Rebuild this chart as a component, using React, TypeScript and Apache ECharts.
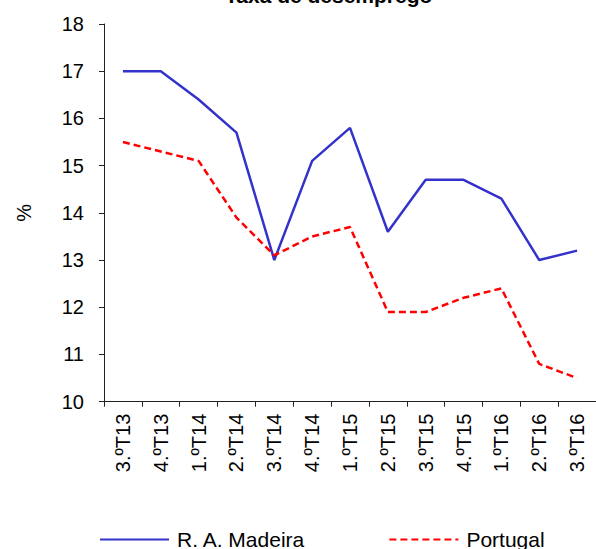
import React, { useEffect, useRef } from "react";
import * as echarts from "echarts";

const categories = [
  "3.ºT13", "4.ºT13", "1.ºT14", "2.ºT14", "3.ºT14", "4.ºT14", "1.ºT15",
  "2.ºT15", "3.ºT15", "4.ºT15", "1.ºT16", "2.ºT16", "3.ºT16",
];
const madeira = [17.0, 17.0, 16.4, 15.7, 13.0, 15.1, 15.8, 13.6, 14.7, 14.7, 14.3, 13.0, 13.2];
const portugal = [15.5, 15.3, 15.1, 13.9, 13.1, 13.5, 13.7, 11.9, 11.9, 12.2, 12.4, 10.8, 10.5];
const seriesNames = ["R. A. Madeira", "Portugal"];
const titleText = "Taxa de desemprego";
const yName = "%";

const FONT = "'Liberation Sans', Arial, sans-serif";

export default function App() {
  const ref = useRef<HTMLDivElement>(null);
  useEffect(() => {
    if (!ref.current) return;
    const chart = echarts.init(ref.current, undefined, { renderer: "svg" });
    chart.setOption({
      animation: false,
      backgroundColor: "#ffffff",
      textStyle: { fontFamily: FONT },
      title: {
        text: titleText,
        left: 225,
        top: -15,
        padding: 0,
        textStyle: { fontFamily: FONT, fontSize: 21, fontWeight: "bold", color: "#000" },
      },
      legend: {
        left: 99,
        top: 529,
        padding: 0,
        itemGap: 83,
        itemWidth: 69,
        itemHeight: 20,
        data: seriesNames,
        itemStyle: { opacity: 0, borderWidth: 0 },
        textStyle: { fontFamily: FONT, fontSize: 21, color: "#000", padding: [0, 0, 0, 3] },
      },
      grid: { left: 104, top: 24, right: -11, bottom: 147.3 },
      xAxis: {
        type: "category",
        data: categories,
        boundaryGap: true,
        axisLine: { lineStyle: { color: "#222", width: 1 } },
        axisTick: { show: true, length: 5, lineStyle: { color: "#222" } },
        axisLabel: {
          rotate: 90,
          margin: 12,
          fontSize: 20,
          fontFamily: FONT,
          color: "#000",
          interval: 0,
        },
        splitLine: { show: false },
      },
      yAxis: {
        type: "value",
        min: 10,
        max: 18,
        interval: 1,
        name: yName,
        nameLocation: "middle",
        nameRotate: 90,
        nameGap: 70,
        nameTextStyle: { fontFamily: FONT, fontSize: 20, color: "#000" },
        axisLine: { show: true, lineStyle: { color: "#222", width: 1 } },
        axisTick: { show: true, length: 5, lineStyle: { color: "#222" } },
        axisLabel: { margin: 20, fontSize: 20, fontFamily: FONT, color: "#000" },
        splitLine: { show: false },
      },
      series: [
        {
          name: seriesNames[0],
          type: "line",
          data: madeira,
          symbol: "none",
          lineStyle: { color: "#3333CC", width: 2.5, type: "solid" },
          itemStyle: { color: "#3333CC" },
        },
        {
          name: seriesNames[1],
          type: "line",
          data: portugal,
          symbol: "none",
          lineStyle: { color: "#FF0000", width: 2.5, type: [7, 4] },
          itemStyle: { color: "#FF0000" },
        },
      ],
    });
    return () => chart.dispose();
  }, []);
  return (
    <div
      ref={ref}
      style={{ position: "absolute", left: 0, top: 0, width: 596, height: 549 }}
    />
  );
}
